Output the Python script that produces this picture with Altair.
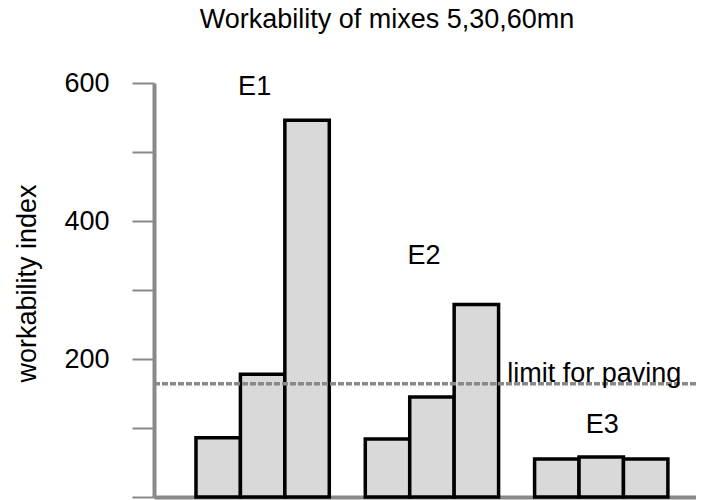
import altair as alt
import pandas as pd

FONT = "Liberation Sans"

groups = ["E1", "E2", "E3"]
times = ["5 mn", "30 mn", "60 mn"]
e1_values = [86, 178, 546]
e2_values = [84, 145, 279]
e3_values = [55, 58, 55]
limit_value = 164
limit_text = "limit for paving"
label_y = [594, 350, 105]
y_ticks = [0, 100, 200, 300, 400, 500, 600]

rows = []
for g, vals in zip(groups, [e1_values, e2_values, e3_values]):
    for t, v in zip(times, vals):
        rows.append({"group": g, "time": t, "value": v})
bars_df = pd.DataFrame(rows)
labels_df = pd.DataFrame({"group": groups, "value": label_y})
limit_df = pd.DataFrame({"group": ["E3"], "value": [limit_value], "text": [limit_text]})

xscale = alt.Scale(domain=groups, paddingInner=0.2126, paddingOuter=0.207, align=0.599)
yscale = alt.Scale(domain=[0, 600], nice=False)

x_enc = alt.X("group:N", scale=xscale, title=None,
              axis=alt.Axis(labels=False, ticks=False, domain=True,
                            domainColor="#898989", domainWidth=4, grid=False))
y_enc = alt.Y("value:Q", scale=yscale, title="workability index",
              axis=alt.Axis(values=y_ticks,
                            labelExpr="(datum.value % 200 == 0 && datum.value > 0) ? datum.label : ''",
                            grid=False, domainColor="#898989", domainWidth=4,
                            tickColor="#898989", tickWidth=2, tickSize=22,
                            labelPadding=23, labelFontSize=27, labelFont=FONT,
                            labelColor="black", titleFontSize=27, titleFont=FONT,
                            titleFontWeight="normal", titleColor="black",
                            titlePadding=22, titleY=200))

bars = alt.Chart(bars_df).mark_bar(fill="#d9d9d9", stroke="black", strokeWidth=3.5).encode(
    x=x_enc,
    xOffset=alt.XOffset("time:N", sort=times, scale=alt.Scale(paddingInner=0, paddingOuter=0)),
    y=y_enc,
)

rule = alt.Chart(limit_df).mark_rule(color="#898989", strokeWidth=3.5, strokeDash=[6, 2]).encode(
    y=alt.Y("value:Q", scale=yscale),
)

lab12 = alt.Chart(labels_df).transform_filter("datum.group != 'E3'").mark_text(
    fontSize=27, font=FONT, color="black", baseline="middle", dx=-8
).encode(x=alt.X("group:N", scale=xscale), y=alt.Y("value:Q", scale=yscale), text="group:N")

lab3 = alt.Chart(labels_df).transform_filter("datum.group == 'E3'").mark_text(
    fontSize=27, font=FONT, color="black", baseline="middle", dx=1
).encode(x=alt.X("group:N", scale=xscale), y=alt.Y("value:Q", scale=yscale), text="group:N")

limit_lab = alt.Chart(limit_df).mark_text(
    fontSize=27, font=FONT, color="black", baseline="alphabetic", align="center", dx=-7, dy=-2
).encode(x=alt.X("group:N", scale=xscale), y=alt.Y("value:Q", scale=yscale), text="text:N")

chart = alt.layer(bars, rule, lab12, lab3, limit_lab).properties(
    width=542,
    height=414,
    title=alt.TitleParams(text="Workability of mixes 5,30,60mn", fontSize=27, fontWeight="normal",
                          font=FONT, color="black", anchor="middle", frame="group", dx=-38,
                          baseline="alphabetic", offset=14),
    autosize=alt.AutoSizeParams(type="none"),
    padding={"left": 146, "top": 75, "right": 0, "bottom": 3},
).configure(background="white").configure_view(strokeWidth=0, stroke="white")

chart.save("out.html", embed_options={"renderer": "svg", "actions": False})
